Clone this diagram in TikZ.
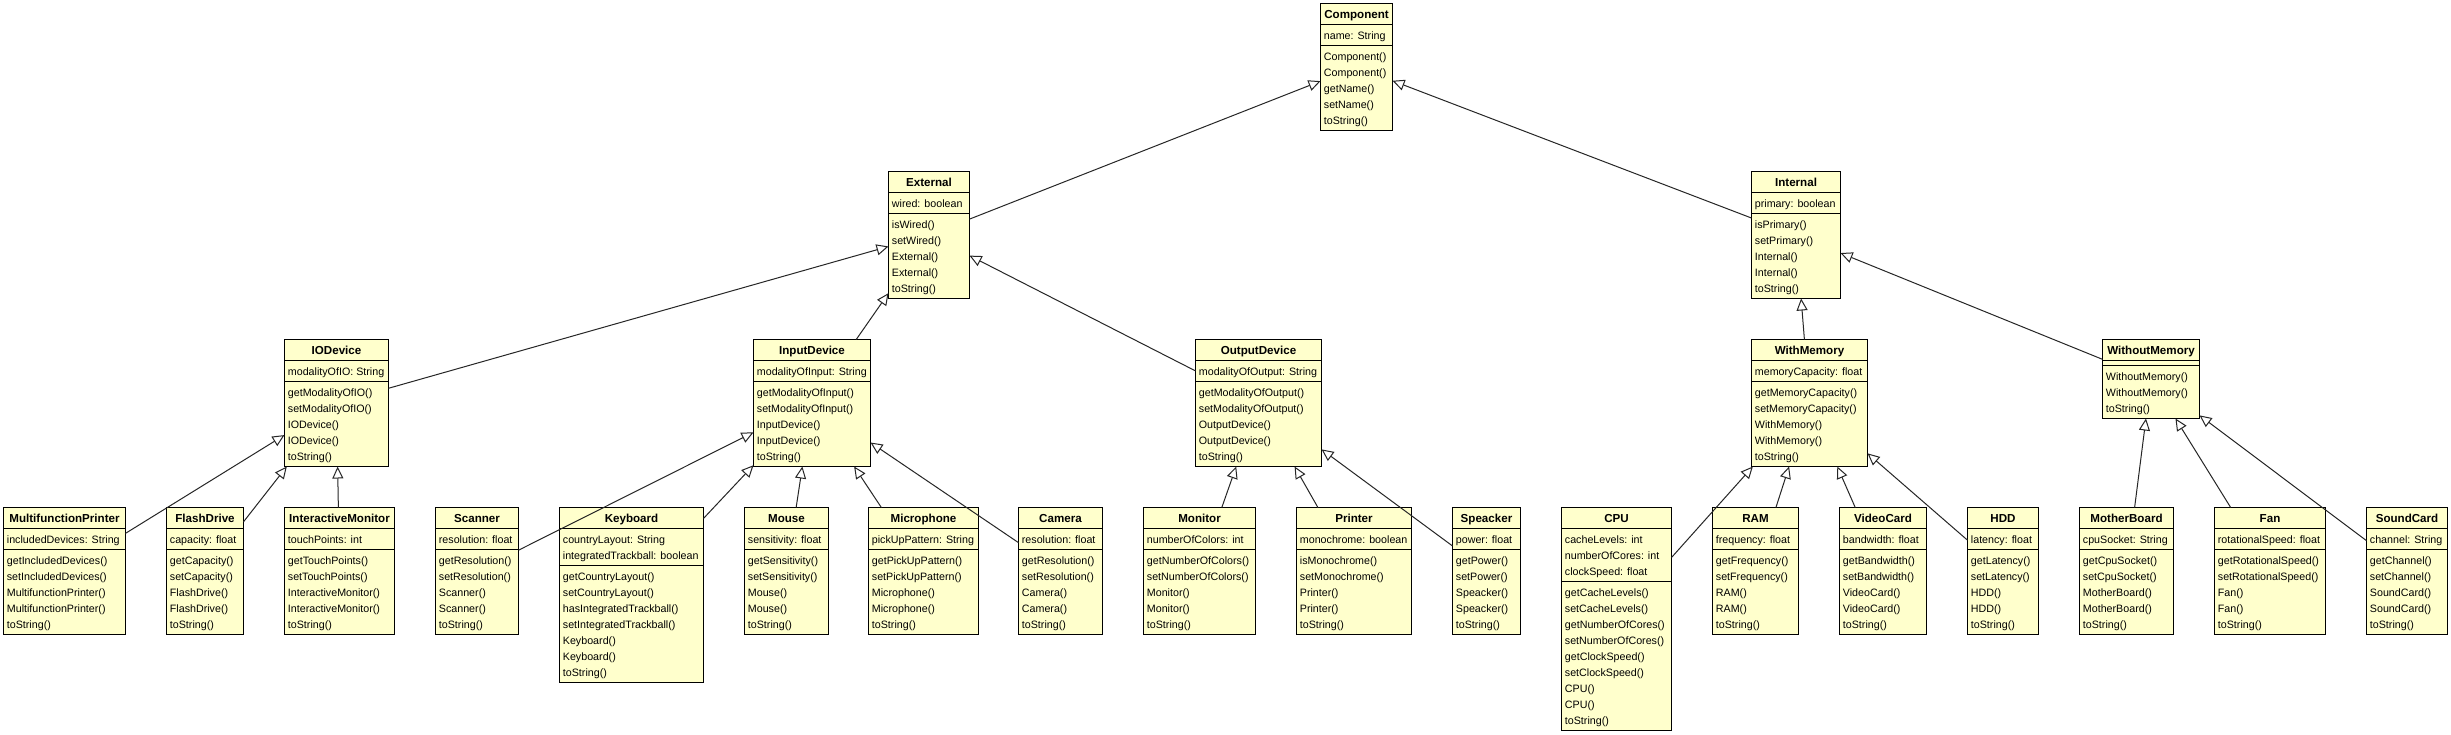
\documentclass[tikz,border=0pt]{standalone}
\usepackage{fontspec}
\setmainfont{Liberation Sans}
\usetikzlibrary{arrows.meta}
\definecolor{umlfill}{HTML}{FFFFCC}
\tikzset{
  classbox/.style={draw=black, line width=0.5pt, fill=umlfill, rectangle, anchor=north west, inner sep=0pt, outer sep=0pt},
  sepline/.style={draw=black, line width=0.5pt},
  titletext/.style={font=\fontsize{5.8}{7}\selectfont\bfseries, inner sep=0pt, anchor=base},
  membertext/.style={font=\fontsize{5.35}{8}\selectfont, inner sep=0pt, anchor=base west},
  inherit/.style={draw=black!85, line width=0.5pt, -{Triangle[fill=white, length=6pt, width=5.5pt]}},
}
% #1 name, #2 left, #3 top, #4 right, #5 title, #6 attributes, #7 number of attributes, #8 methods, #9 number of methods
\newcommand{\umlclass}[9]{%
  \pgfmathsetmacro{\clsYa}{#3+21}%
  \pgfmathsetmacro{\clsYb}{\clsYa+ifthenelse(#7==0,5,#7*16+5)}%
  \pgfmathsetmacro{\clsYc}{\clsYb+#9*16+5}%
  \pgfmathsetmacro{\clsW}{(#4-#2)*0.5}%
  \pgfmathsetmacro{\clsH}{(\clsYc-#3)*0.5}%
  \node[classbox, minimum width=\clsW pt, minimum height=\clsH pt] (#1) at (#2,#3) {};
  \draw[sepline] (#2,\clsYa) -- (#4,\clsYa);
  \draw[sepline] (#2,\clsYb) -- (#4,\clsYb);
  \node[titletext] (#1-title) at ({(#2+#4)/2},{#3+14.8}) {#5};
  \ifnum#7>0
    \foreach \rowtxt [count=\rowno] in {#6} {
      \node[membertext] (#1-a\rowno) at ({#2+3},{\clsYa+15+(\rowno-1)*16}) {\rowtxt};
    }
  \fi
  \foreach \rowtxt [count=\rowno] in {#8} {
    \node[membertext] (#1-m\rowno) at ({#2+3},{\clsYb+15+(\rowno-1)*16}) {\rowtxt};
  }
}
\begin{document}
\begin{tikzpicture}[x=0.5pt,y=-0.5pt]
\fill[white] (0,0) rectangle (2451,734);
\useasboundingbox (0,0) rectangle (2451,734);

% level 1
\umlclass{component}{1320.5}{3.5}{1392.5}{Component}{name: String}{1}{Component(), Component(), getName(), setName(), toString()}{5}
% level 2
\umlclass{external}{888.5}{171.5}{969.5}{External}{wired: boolean}{1}{isWired(), setWired(), External(), External(), toString()}{5}
\umlclass{internal}{1751.5}{171.5}{1840.5}{Internal}{primary: boolean}{1}{isPrimary(), setPrimary(), Internal(), Internal(), toString()}{5}
% level 3
\umlclass{iodevice}{284.5}{339.5}{388.5}{IODevice}{modalityOfIO: String}{1}{getModalityOfIO(), setModalityOfIO(), IODevice(), IODevice(), toString()}{5}
\umlclass{inputdevice}{753.5}{339.5}{870.5}{InputDevice}{modalityOfInput: String}{1}{getModalityOfInput(), setModalityOfInput(), InputDevice(), InputDevice(), toString()}{5}
\umlclass{outputdevice}{1195.5}{339.5}{1321.5}{OutputDevice}{modalityOfOutput: String}{1}{getModalityOfOutput(), setModalityOfOutput(), OutputDevice(), OutputDevice(), toString()}{5}
\umlclass{withmemory}{1751.5}{339.5}{1867.5}{WithMemory}{memoryCapacity: float}{1}{getMemoryCapacity(), setMemoryCapacity(), WithMemory(), WithMemory(), toString()}{5}
\umlclass{withoutmemory}{2102.5}{339.5}{2199.5}{WithoutMemory}{}{0}{WithoutMemory(), WithoutMemory(), toString()}{3}
% level 4
\umlclass{mfprinter}{3.5}{507.5}{125.5}{MultifunctionPrinter}{includedDevices: String}{1}{getIncludedDevices(), setIncludedDevices(), MultifunctionPrinter(), MultifunctionPrinter(), toString()}{5}
\umlclass{flashdrive}{166.5}{507.5}{243.5}{FlashDrive}{capacity: float}{1}{getCapacity(), setCapacity(), FlashDrive(), FlashDrive(), toString()}{5}
\umlclass{intmonitor}{284.5}{507.5}{394.5}{InteractiveMonitor}{touchPoints: int}{1}{getTouchPoints(), setTouchPoints(), InteractiveMonitor(), InteractiveMonitor(), toString()}{5}
\umlclass{scanner}{435.5}{507.5}{518.5}{Scanner}{resolution: float}{1}{getResolution(), setResolution(), Scanner(), Scanner(), toString()}{5}
\umlclass{keyboard}{559.5}{507.5}{703.5}{Keyboard}{countryLayout: String, integratedTrackball: boolean}{2}{getCountryLayout(), setCountryLayout(), hasIntegratedTrackball(), setIntegratedTrackball(), Keyboard(), Keyboard(), toString()}{7}
\umlclass{mouse}{744.5}{507.5}{828.5}{Mouse}{sensitivity: float}{1}{getSensitivity(), setSensitivity(), Mouse(), Mouse(), toString()}{5}
\umlclass{microphone}{868.5}{507.5}{978.5}{Microphone}{pickUpPattern: String}{1}{getPickUpPattern(), setPickUpPattern(), Microphone(), Microphone(), toString()}{5}
\umlclass{camera}{1018.5}{507.5}{1102.5}{Camera}{resolution: float}{1}{getResolution(), setResolution(), Camera(), Camera(), toString()}{5}
\umlclass{monitor}{1143.5}{507.5}{1255.5}{Monitor}{numberOfColors: int}{1}{getNumberOfColors(), setNumberOfColors(), Monitor(), Monitor(), toString()}{5}
\umlclass{printer}{1296.5}{507.5}{1411.5}{Printer}{monochrome: boolean}{1}{isMonochrome(), setMonochrome(), Printer(), Printer(), toString()}{5}
\umlclass{speacker}{1452.5}{507.5}{1520.5}{Speacker}{power: float}{1}{getPower(), setPower(), Speacker(), Speacker(), toString()}{5}
\umlclass{cpu}{1561.5}{507.5}{1671.5}{CPU}{cacheLevels: int, numberOfCores: int, clockSpeed: float}{3}{getCacheLevels(), setCacheLevels(), getNumberOfCores(), setNumberOfCores(), getClockSpeed(), setClockSpeed(), CPU(), CPU(), toString()}{9}
\umlclass{ram}{1712.5}{507.5}{1798.5}{RAM}{frequency: float}{1}{getFrequency(), setFrequency(), RAM(), RAM(), toString()}{5}
\umlclass{videocard}{1839.5}{507.5}{1926.5}{VideoCard}{bandwidth: float}{1}{getBandwidth(), setBandwidth(), VideoCard(), VideoCard(), toString()}{5}
\umlclass{hdd}{1967.5}{507.5}{2038.5}{HDD}{latency: float}{1}{getLatency(), setLatency(), HDD(), HDD(), toString()}{5}
\umlclass{motherboard}{2079.5}{507.5}{2173.5}{MotherBoard}{cpuSocket: String}{1}{getCpuSocket(), setCpuSocket(), MotherBoard(), MotherBoard(), toString()}{5}
\umlclass{fan}{2214.5}{507.5}{2325.5}{Fan}{rotationalSpeed: float}{1}{getRotationalSpeed(), setRotationalSpeed(), Fan(), Fan(), toString()}{5}
\umlclass{soundcard}{2366.5}{507.5}{2447.5}{SoundCard}{channel: String}{1}{getChannel(), setChannel(), SoundCard(), SoundCard(), toString()}{5}

% generalizations
\draw[inherit] (external) -- (component);
\draw[inherit] (internal) -- (component);
\draw[inherit] (iodevice) -- (external);
\draw[inherit] (inputdevice) -- (external);
\draw[inherit] (outputdevice) -- (external);
\draw[inherit] (withmemory) -- (internal);
\draw[inherit] (withoutmemory) -- (internal);
\draw[inherit] (mfprinter) -- (iodevice);
\draw[inherit] (flashdrive) -- (iodevice);
\draw[inherit] (intmonitor) -- (iodevice);
\draw[inherit] (scanner) -- (inputdevice);
\draw[inherit] (keyboard) -- (inputdevice);
\draw[inherit] (mouse) -- (inputdevice);
\draw[inherit] (microphone) -- (inputdevice);
\draw[inherit] (camera) -- (inputdevice);
\draw[inherit] (monitor) -- (outputdevice);
\draw[inherit] (printer) -- (outputdevice);
\draw[inherit] (speacker) -- (outputdevice);
\draw[inherit] (cpu) -- (withmemory);
\draw[inherit] (ram) -- (withmemory);
\draw[inherit] (videocard) -- (withmemory);
\draw[inherit] (hdd) -- (withmemory);
\draw[inherit] (motherboard) -- (withoutmemory);
\draw[inherit] (fan) -- (withoutmemory);
\draw[inherit] (soundcard) -- (withoutmemory);
\end{tikzpicture}
\end{document}
